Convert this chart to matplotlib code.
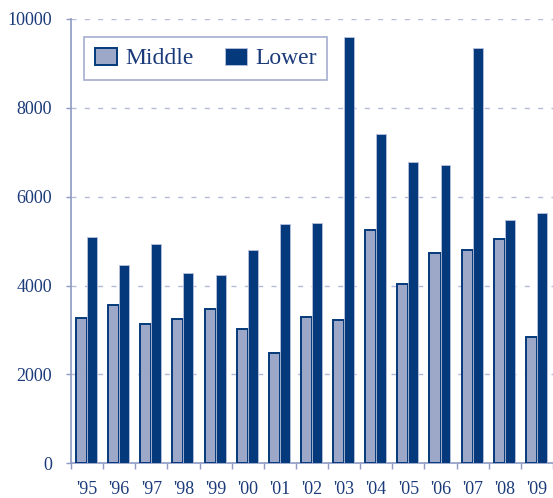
import matplotlib
matplotlib.use("Agg")
import matplotlib.pyplot as plt
from matplotlib.patches import Rectangle
from matplotlib.legend_handler import HandlerPatch
import numpy as np

years = ["'95", "'96", "'97", "'98", "'99", "'00", "'01", "'02",
         "'03", "'04", "'05", "'06", "'07", "'08", "'09"]
middle = [3270, 3570, 3130, 3240, 3470, 3030, 2480, 3300,
          3220, 5240, 4040, 4740, 4790, 5050, 2850]
lower = [5090, 4470, 4930, 4290, 4240, 4790, 5390, 5400,
         9600, 7420, 6780, 6720, 9340, 5480, 5630]
yticks = [0, 2000, 4000, 6000, 8000, 10000]

navy = "#043a7b"
light = "#9da7c8"
axis_col = "#8e9ac2"
grid_col = "#b4bcd9"
text_col = "#1a3a7a"

plt.rcParams['font.family'] = 'Liberation Serif'

fig = plt.figure(figsize=(5.53, 4.98), dpi=100)
ax = fig.add_axes([71/553, 34.7/498, 1 - 71/553, (463.3 - 19)/498])

x = np.arange(len(years))
ax.bar(x - 0.345, middle, width=0.345, align='edge', color=light,
       edgecolor=navy, linewidth=1.4, zorder=3, label='Middle')
ax.bar(x, lower, width=0.31, align='edge', color=navy,
       edgecolor="#b9c2de", linewidth=0.6, zorder=4, label='Lower')

ax.set_xlim(-0.5, len(years) - 0.5)
ax.set_ylim(0, 10000)
ax.set_yticks(yticks)
ax.set_yticklabels([str(v) for v in yticks])
ax.set_xticks(x)
ax.set_xticklabels(years)
ax.set_xticks(np.arange(len(years) + 1) - 0.5, minor=True)

ax.tick_params(axis='x', which='major', length=0, pad=13, labelsize=13,
               labelcolor=text_col)
ax.tick_params(axis='x', which='minor', length=4.5, width=1.0, color=axis_col)
ax.tick_params(axis='y', which='major', length=3.5, width=1.0, color=axis_col,
               pad=10, labelsize=13, labelcolor=text_col)

for s in ['top', 'right']:
    ax.spines[s].set_visible(False)
for s in ['left', 'bottom']:
    ax.spines[s].set_color(axis_col)
    ax.spines[s].set_linewidth(1.2)

ax.yaxis.grid(True, color=grid_col, linestyle=(0, (3.6, 6)), linewidth=1.0, zorder=0)
ax.set_axisbelow(True)

SQ = 12.5   # square size in points
OFF = 3.9   # left offset in points


def square(legend, orig_handle, xdescent, ydescent, width, height, fontsize):
    return Rectangle((-xdescent + OFF, -ydescent + (height - SQ) / 2), SQ, SQ)


fs = 17
leg = ax.legend(loc='upper left', bbox_to_anchor=((84 - 71) / 482, (463.3 - 37) / 444.3),
                ncol=2, frameon=True, fancybox=False, fontsize=fs,
                handlelength=(SQ + OFF) / fs, handleheight=SQ / fs, handletextpad=0.34,
                columnspacing=1.3, borderpad=0.45, borderaxespad=0,
                handler_map={Rectangle: HandlerPatch(patch_func=square)})
leg.get_frame().set_edgecolor(axis_col)
leg.get_frame().set_linewidth(1.2)
for t in leg.get_texts():
    t.set_color(text_col)

fig.savefig("out.png", dpi=100)
